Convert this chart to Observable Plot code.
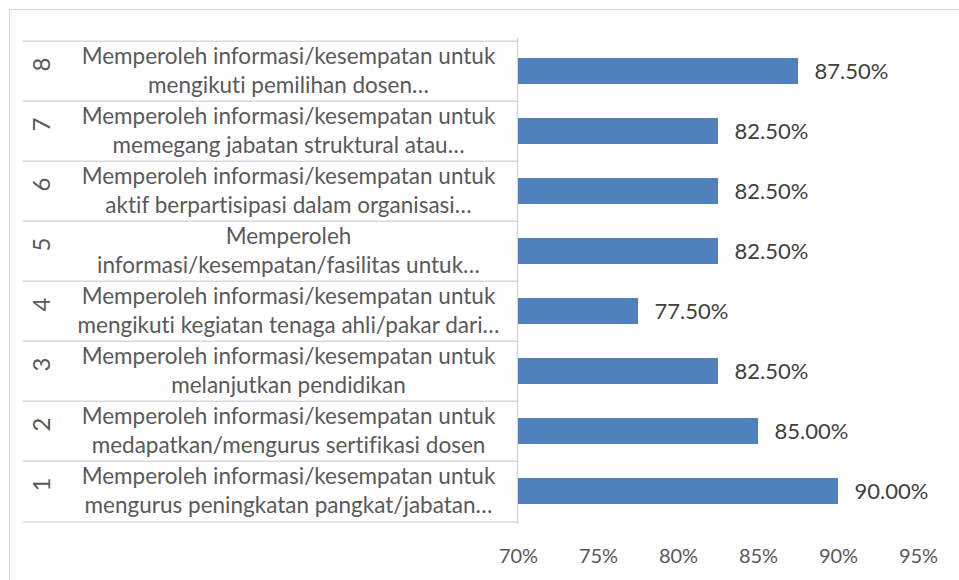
<!DOCTYPE html>
<html>
<head>
<meta charset="utf-8">
<script src="https://cdn.jsdelivr.net/npm/d3@7"></script>
<script src="https://cdn.jsdelivr.net/npm/@observablehq/plot@0.6"></script>
<style>
  html, body { margin: 0; padding: 0; background: #fff; }
  #wrap { position: relative; width: 959px; height: 580px; overflow: hidden; }
  #border { position: absolute; left: 9px; top: 9px; width: 960px; height: 600px;
            border-left: 1px solid #d9d9d9; border-top: 1px solid #d9d9d9; box-sizing: border-box; pointer-events: none; }
  #chart { position: absolute; left: 0; top: 0; }
  #chart text { font-variant-ligatures: none; }
</style>
</head>
<body>
<div id="wrap"><div id="chart"></div><div id="border"></div></div>
<script>
const categories = ["1", "2", "3", "4", "5", "6", "7", "8"];
const labelLine1 = [
  "Memperoleh informasi/kesempatan untuk",
  "Memperoleh informasi/kesempatan untuk",
  "Memperoleh informasi/kesempatan untuk",
  "Memperoleh informasi/kesempatan untuk",
  "Memperoleh",
  "Memperoleh informasi/kesempatan untuk",
  "Memperoleh informasi/kesempatan untuk",
  "Memperoleh informasi/kesempatan untuk"
];
const labelLine2 = [
  "mengurus peningkatan pangkat/jabatan…",
  "medapatkan/mengurus sertifikasi dosen",
  "melanjutkan pendidikan",
  "mengikuti kegiatan tenaga ahli/pakar dari…",
  "informasi/kesempatan/fasilitas untuk…",
  "aktif berpartisipasi dalam organisasi…",
  "memegang jabatan struktural atau…",
  "mengikuti pemilihan dosen…"
];
const values = [90.0, 85.0, 82.5, 77.5, 82.5, 82.5, 82.5, 87.5];
const xTicks = [70, 75, 80, 85, 90, 95];

const data = categories.map((c, i) => ({cat: c, l1: labelLine1[i], l2: labelLine2[i], value: values[i]}));
const yDomain = categories.slice().reverse();

const W = 959, H = 580, mL = 518, mR = 41, mT = 38, mB = 56;
const step = (H - mT - mB) / categories.length;
const grid = "#d9d9d9";
const font = "Lato, 'Open Sans', sans-serif";

const chart = Plot.plot({
  width: W,
  height: H,
  marginLeft: mL,
  marginRight: mR,
  marginTop: mT,
  marginBottom: mB,
  style: {fontFamily: font, color: "#595959", background: "transparent", overflow: "visible"},
  x: {domain: [70, 95], axis: null, label: null},
  y: {domain: yDomain, paddingInner: 0.57, paddingOuter: 0.285, axis: null, label: null},
  marks: [
    Plot.ruleY(categories, {y: d => d, dy: -step / 2, stroke: grid, strokeWidth: 1.5, insetLeft: -(mL - 23), insetRight: (W - mR) - 517}),
    Plot.ruleY(["1"], {y: d => d, dy: step / 2, stroke: grid, strokeWidth: 1.5, insetLeft: -(mL - 23), insetRight: (W - mR) - 517}),
    Plot.ruleX([70], {x: d => d, dx: -1, stroke: grid, strokeWidth: 1.5}),
    Plot.barX(data, {x1: 70, x2: "value", y: "cat", fill: "#4F81BD"}),
    Plot.text(data, {x: "value", y: "cat", text: d => d.value.toFixed(2) + "%", dx: 16, textAnchor: "start", fill: "#404040", fontSize: 22}),
    Plot.text(data, {y: "cat", frameAnchor: "left", text: d => d.l1 + "\n" + d.l2, dx: -(mL - 288), dy: -2, textAnchor: "middle", lineHeight: 1.26, fontSize: 22.5, fill: "#595959"}),
    Plot.text(data, {y: "cat", frameAnchor: "left", text: "cat", dx: -(mL - 42), rotate: -90, fontSize: 24, fill: "#595959"}),
    Plot.axisX({ticks: xTicks, tickFormat: d => d + "%", tickSize: 0, tickPadding: 24, fontSize: 20, fill: "#595959", label: null})
  ]
});
document.getElementById("chart").appendChild(chart);
</script>
</body>
</html>
